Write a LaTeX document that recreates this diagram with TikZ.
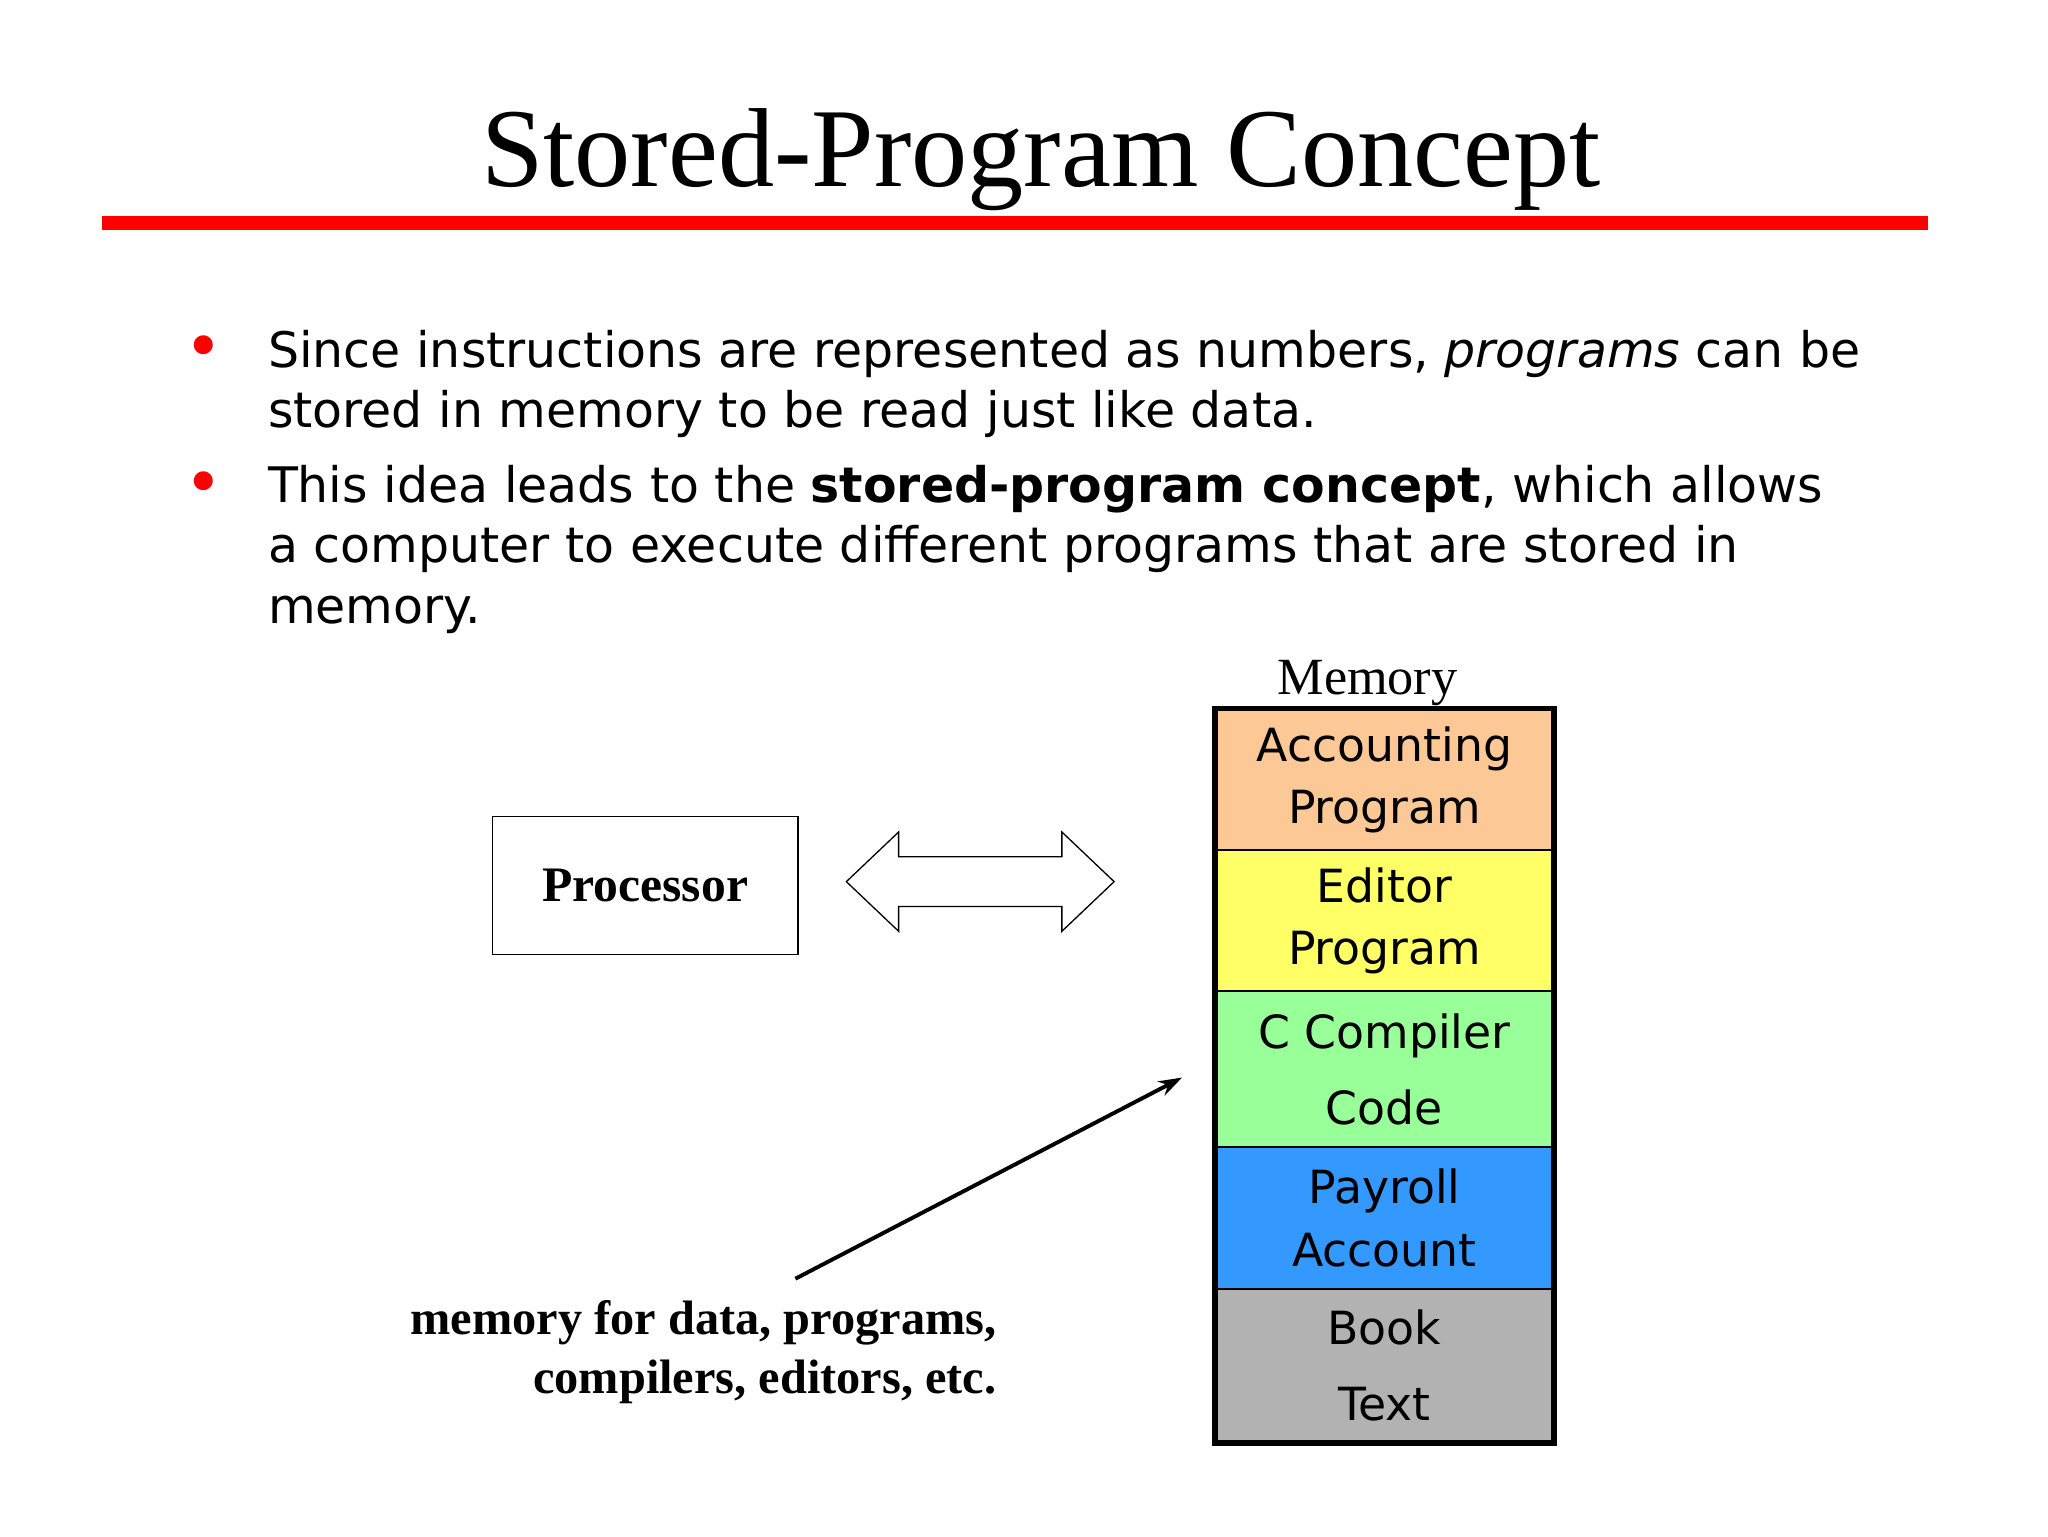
\documentclass[tikz,border=0pt]{standalone}
\usepackage{fontspec}
\setmainfont{Liberation Serif}
\newfontfamily\tah{DejaVu Sans}
\usetikzlibrary{arrows.meta}
\definecolor{memor}{HTML}{FCC896}
\definecolor{memye}{HTML}{FFFF66}
\definecolor{memgr}{HTML}{99FF99}
\definecolor{membl}{HTML}{3399FF}
\definecolor{memgy}{HTML}{B2B2B2}
\begin{document}
\begin{tikzpicture}[x=1pt,y=-1pt,
  btext/.style={anchor=base west,inner sep=0,font=\tah\fontsize{37.5}{44}\selectfont},
  bul/.style={anchor=base,inner sep=0,text=red,font=\tah\fontsize{50}{50}\selectfont},
  cell/.style={draw=black,line width=1.5pt,minimum width=258,inner sep=0,align=center,font=\tah\fontsize{35}{48}\selectfont}]
\useasboundingbox[fill=white] (0,0) rectangle (1568,1176);
\node[anchor=base,inner sep=0,font=\fontsize{86}{90}\selectfont] (title) at (797,143) {Stored-Program Concept};
\fill[red] (78,165) rectangle (1476,176);
\node[bul] (b1) at (156,283) {•};
\node[bul] (b2) at (156,387) {•};
\node[btext] (l1) at (205,281) {Since instructions are represented as numbers, \emph{programs} can be};
\node[btext] (l2) at (205,327) {stored in memory to be read just like data.};
\node[btext] (l3) at (205,385) {This idea leads to the \textbf{stored-program concept}, which allows};
\node[btext] (l4) at (205,431) {a computer to execute different programs that are stored in};
\node[btext] (l5) at (205,477) {memory.};
\node[draw,line width=1pt,minimum width=234,minimum height=106,font=\bfseries\fontsize{38}{40}\selectfont] (proc) at (494,678) {Processor};
\coordinate (dar) at (750.5,675);
\draw[line width=1pt] (648,675) -- (688,637) -- (688,656) -- (813,656) -- (813,637) -- (853,675)
  -- (813,713) -- (813,694) -- (688,694) -- (688,713) -- cycle;
\node[anchor=base,inner sep=0,font=\fontsize{40}{44}\selectfont] (memlbl) at (1047,532) {Memory};
\node[cell,fill=memor,minimum height=108] (m1) at (1060,597) {Accounting\\Program};
\node[cell,fill=memye,minimum height=108] (m2) at (1060,705) {Editor\\Program};
\node[cell,fill=memgr,minimum height=119,font=\tah\fontsize{35}{58}\selectfont] (m3) at (1060,818.5) {C Compiler\\Code};
\node[cell,fill=membl,minimum height=109] (m4) at (1060,932.5) {Payroll\\Account};
\node[cell,fill=memgy,minimum height=117,font=\tah\fontsize{35}{58}\selectfont] (m5) at (1060,1045.5) {Book\\Text};
\draw[line width=4pt] (m1.north west) rectangle (m5.south east);
\coordinate (as) at (609,979);
\coordinate (ae) at (905,825);
\draw[line width=3pt,-{Stealth[length=18pt,width=12pt]}] (as) -- (ae);
\node[anchor=base east,inner sep=0,align=right,font=\bfseries\fontsize{37}{45}\selectfont] (cap) at (763,1067) {memory for data, programs,\\compilers, editors, etc.};
\end{tikzpicture}
\end{document}
